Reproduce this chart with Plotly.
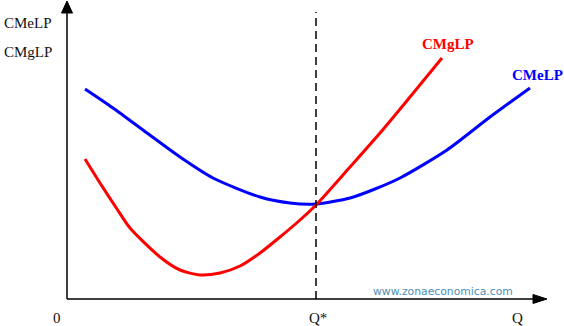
import plotly.graph_objects as go

# Data (x = quantity units, y = cost units; origin at axis corner)
cmelp_x = [18, 46, 80, 113, 146, 193, 223, 249, 283, 308, 333, 380, 423, 463]
cmelp_y = [210, 191, 166, 142, 121, 102, 96, 95, 101, 110, 121, 149, 182, 211]
cmglp_x = [18, 33, 50, 63, 93, 113, 133, 153, 173, 193, 213, 233, 249, 283, 313, 343, 375]
cmglp_y = [140, 116, 90, 71, 42, 29, 24, 26, 33, 46, 62, 79, 94, 132, 166, 202, 241]
q_star = 249
x_tick_labels = ["0", "Q*", "Q"]
y_labels = ["CMeLP", "CMgLP"]

serif = "Liberation Serif, Times New Roman, serif"
txt = "#111111"

fig = go.Figure()
fig.add_trace(go.Scatter(x=cmelp_x, y=cmelp_y, mode="lines",
                         line=dict(color="#0000ff", width=3, shape="spline", smoothing=0.7),
                         hoverinfo="skip"))
fig.add_trace(go.Scatter(x=cmglp_x, y=cmglp_y, mode="lines",
                         line=dict(color="#ff0000", width=3, shape="spline", smoothing=0.7),
                         hoverinfo="skip"))

# dashed vertical at Q*
fig.add_shape(type="line", x0=q_star, x1=q_star, y0=0, y1=287,
              line=dict(color="black", width=1.5, dash="8px,5px"))
# axes
fig.add_shape(type="line", x0=0, x1=470, y0=0, y1=0, line=dict(color="black", width=1.5))
fig.add_shape(type="line", x0=0, x1=0, y0=0, y1=290, line=dict(color="black", width=1.5))
# arrowheads
fig.add_shape(type="path", path="M 466 4.5 L 480 0 L 466 -4.5 Z",
              fillcolor="black", line=dict(color="black", width=1))
fig.add_shape(type="path", path="M -5.5 286 L 0 298 L 5.5 286 Z",
              fillcolor="black", line=dict(color="black", width=1))

ann = []
# y-axis labels
ann.append(dict(x=-65, y=276, text=y_labels[0], xanchor="left", yanchor="middle"))
ann.append(dict(x=-65, y=247, text=y_labels[1], xanchor="left", yanchor="middle"))
# x-axis labels
ann.append(dict(x=-10, y=-19, text=x_tick_labels[0], xanchor="center", yanchor="middle"))
ann.append(dict(x=q_star + 2, y=-19, text=x_tick_labels[1], xanchor="center", yanchor="middle"))
ann.append(dict(x=450, y=-19, text=x_tick_labels[2], xanchor="center", yanchor="middle"))
for a in ann:
    a.update(showarrow=False, font=dict(family=serif, size=15, color=txt))

# curve labels
ann.append(dict(x=381, y=255, text="<b>CMgLP</b>", showarrow=False,
                font=dict(family=serif, size=15, color="#ff0000"),
                xanchor="center", yanchor="middle"))
ann.append(dict(x=470, y=224, text="<b>CMeLP</b>", showarrow=False,
                font=dict(family=serif, size=15, color="#0000ff"),
                xanchor="center", yanchor="middle"))
# watermark
ann.append(dict(x=376, y=8, text="www.zonaeconomica.com", showarrow=False,
                font=dict(family="DejaVu Sans, sans-serif", size=10.8, color="#4a8fb5"),
                xanchor="center", yanchor="middle"))

fig.update_layout(
    width=564, height=326,
    margin=dict(l=0, r=0, t=0, b=0),
    paper_bgcolor="white", plot_bgcolor="white",
    showlegend=False,
    annotations=ann,
    xaxis=dict(range=[-67, 497], visible=False, fixedrange=True),
    yaxis=dict(range=[-27, 299], visible=False, fixedrange=True),
)

fig.write_html("out.html")
